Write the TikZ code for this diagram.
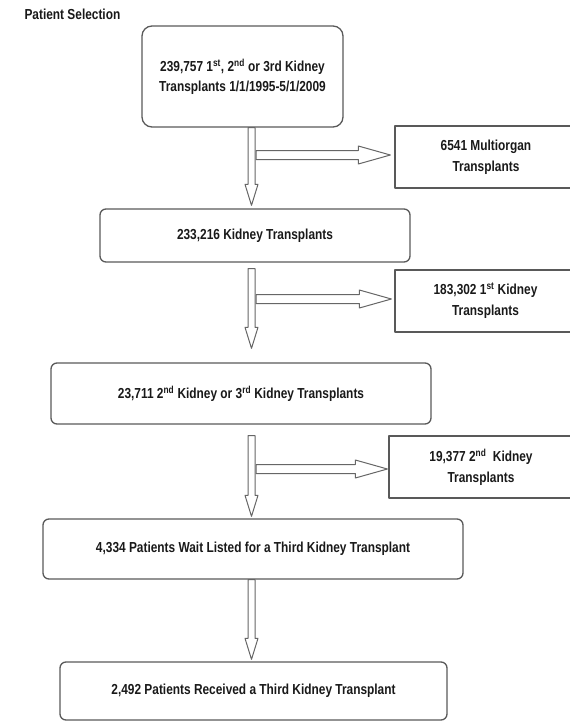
\documentclass[tikz,border=0pt]{standalone}
\usepackage{fontspec}
\setmainfont{Liberation Sans}[FakeStretch=0.82]
\usepackage{tikz}
\usetikzlibrary{calc}
\usetikzlibrary{positioning}

% hollow block arrows, #1 = start of shaft, #2 = tip
\newcommand{\downshaft}[2]{\draw[hollow] ($(#1)+(-3.5,0)$) -- ($(#2)+(-3.5,-21)$) -- ($(#2)+(-6.5,-21)$) -- (#2) -- ($(#2)+(6.5,-21)$) -- ($(#2)+(3.5,-21)$) -- ($(#1)+(3.5,0)$) -- cycle;}
\newcommand{\rightshaft}[2]{\draw[hollow] ($(#1)+(0,-4.5)$) -- ($(#2)+(-32,-4.5)$) -- ($(#2)+(-32,-9)$) -- (#2) -- ($(#2)+(-32,9)$) -- ($(#2)+(-32,4.5)$) -- ($(#1)+(0,4.5)$) -- cycle;}

\begin{document}
\begin{tikzpicture}[x=1pt,y=-1pt,line join=round,
  stage/.style={draw=black!65,line width=1.3pt,rounded corners=6pt,inner sep=0pt,align=center,text=black!90,font=\bfseries\fontsize{14.5}{20}\selectfont},
  sidebox/.style={stage,rounded corners=0pt,font=\bfseries\fontsize{14.5}{21}\selectfont},
  hollow/.style={draw=black!60,line width=1pt,fill=white}]
\clip (0,0) rectangle (570,721);
\node[anchor=west,text=black!90,font=\bfseries\fontsize{14.5}{18}\selectfont] (title) at (21,14) {Patient Selection};
\node[stage,rounded corners=10pt,minimum width=201pt,minimum height=101pt] (b1) at (242.5,76.5) {239,757 1\textsuperscript{st}, 2\textsuperscript{nd} or 3rd Kidney\\Transplants 1/1/1995-5/1/2009};
\node[sidebox,minimum width=182pt,minimum height=62pt] (r1) at (486,157) {6541 Multiorgan\\Transplants};
\node[stage,minimum width=310pt,minimum height=53pt] (b2) at (255,235.5) {233,216 Kidney Transplants};
\node[sidebox,minimum width=181pt,minimum height=62pt] (r2) at (485.5,301) {183,302 1\textsuperscript{st} Kidney\\Transplants};
\node[stage,minimum width=380pt,minimum height=61pt] (b3) at (241,393.5) {23,711 2\textsuperscript{nd} Kidney or 3\textsuperscript{rd} Kidney Transplants};
\node[sidebox,minimum width=184pt,minimum height=62pt] (r3) at (481,467) {19,377 2\textsuperscript{nd}~ Kidney\\Transplants};
\node[stage,minimum width=420pt,minimum height=60pt] (b4) at (253,549) {4,334 Patients Wait Listed for a Third Kidney Transplant};
\node[stage,minimum width=387pt,minimum height=58pt] (b5) at (253.5,691) {2,492 Patients Received a Third Kidney Transplant};

\coordinate (spine) at (251.5,0);
% down the spine
\coordinate (v1a) at (b1.south -| spine);
\coordinate (v1b) at ($(b2.north -| spine)+(0,-3)$);
\coordinate (v2a) at ($(b2.south -| spine)+(0,6)$);
\coordinate (v2b) at ($(b3.north -| spine)+(0,-14)$);
\coordinate (v3a) at ($(b3.south -| spine)+(0,11)$);
\coordinate (v3b) at ($(b4.north -| spine)+(0,-2)$);
\coordinate (v4a) at (b4.south -| spine);
\coordinate (v4b) at ($(b5.north -| spine)+(0,-2)$);
% off to the side boxes
\coordinate (h1a) at ($(spine |- r1.west)+(4.5,-2)$);
\coordinate (h1b) at ($(r1.west)+(-4,-2)$);
\coordinate (h2a) at ($(spine |- r2.west)+(4.5,-2)$);
\coordinate (h2b) at ($(r2.west)+(-3,-2)$);
\coordinate (h3a) at ($(spine |- r3.west)+(4.5,2)$);
\coordinate (h3b) at ($(r3.west)+(-1,2)$);
\rightshaft{h1a}{h1b}
\rightshaft{h2a}{h2b}
\rightshaft{h3a}{h3b}
\downshaft{v1a}{v1b}
\downshaft{v2a}{v2b}
\downshaft{v3a}{v3b}
\downshaft{v4a}{v4b}
\end{tikzpicture}
\end{document}
